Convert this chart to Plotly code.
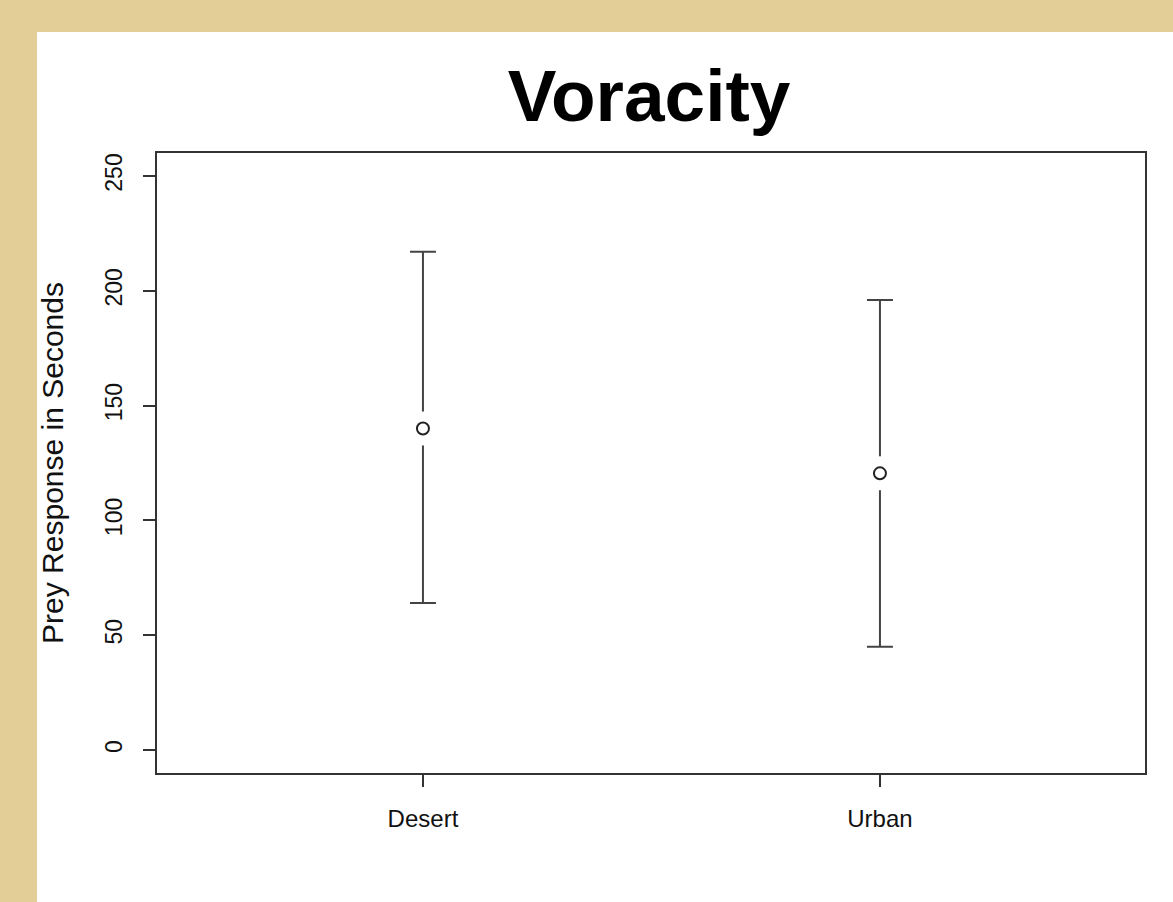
import plotly.graph_objects as go

# Data
categories = ["Desert", "Urban"]
x_pos = [1, 2]
means = [140, 120.5]
upper = [217, 196]
lower = [64, 45]
y_ticks = [0, 50, 100, 150, 200, 250]

err_plus = [u - m for u, m in zip(upper, means)]
err_minus = [m - l for m, l in zip(means, lower)]

W, H = 1173, 902
ml, mr, mt, mb = 157, 28, 153, 129
pw, ph = W - ml - mr, H - mt - mb
BG = "#e4ce98"

fig = go.Figure()

# error bars
fig.add_trace(go.Scatter(
    x=x_pos, y=means, mode="markers",
    marker=dict(size=1, color="rgba(0,0,0,0)"),
    error_y=dict(type="data", symmetric=False, array=err_plus, arrayminus=err_minus,
                 color="#444444", thickness=2, width=13),
    hoverinfo="skip", showlegend=False))
# gap mask
fig.add_trace(go.Scatter(
    x=x_pos, y=means, mode="markers",
    marker=dict(size=34, color="white", line=dict(width=0)),
    hoverinfo="skip", showlegend=False))
# mean points
fig.add_trace(go.Scatter(
    x=x_pos, y=means, mode="markers",
    marker=dict(symbol="circle-open", size=12, color="#222222", line=dict(width=2)),
    showlegend=False))

# white page over parchment
fig.add_shape(type="rect", xref="paper", yref="paper", layer="below",
              x0=(37 - ml) / pw, x1=(W + 5 - ml) / pw,
              y0=-(mb + 10) / ph, y1=(H - 32 - mb) / ph,
              fillcolor="white", line=dict(width=0))

font_family = "Liberation Sans, Arial, sans-serif"

fig.update_layout(
    width=W, height=H,
    margin=dict(l=ml, r=mr, t=mt, b=mb),
    paper_bgcolor=BG,
    plot_bgcolor="white",
    font=dict(family=font_family, color="#111111"),
    title=dict(text="<b>Voracity</b>", font=dict(size=73, color="black", family=font_family),
               x=(649 - ml) / pw, xref="paper", xanchor="center",
               y=1 - 95 / H, yref="container", yanchor="middle"),
    xaxis=dict(range=[0.418, 2.58], tickvals=x_pos, ticktext=categories,
               showgrid=False, zeroline=False,
               showline=True, mirror=True, linecolor="#333333", linewidth=1.5,
               ticks="outside", ticklen=12, tickwidth=1.5, tickcolor="#333333",
               tickfont=dict(size=24, color="#111111"), ticklabelstandoff=11),
    yaxis=dict(range=[-10, 260], tickvals=y_ticks,
               showgrid=False, zeroline=False,
               showline=True, mirror=True, linecolor="#333333", linewidth=1.5,
               ticks="outside", ticklen=12, tickwidth=1.5, tickcolor="#333333",
               tickangle=-90, tickfont=dict(size=23, color="#111111"), ticklabelstandoff=12,
               title=dict(text="Prey Response in Seconds", font=dict(size=30, color="#111111"),
                          standoff=29)),
)

fig.write_html(
    "out.html",
    config={"displayModeBar": False},
    post_script="document.body.style.margin='0';document.body.style.background='%s';" % BG,
)
